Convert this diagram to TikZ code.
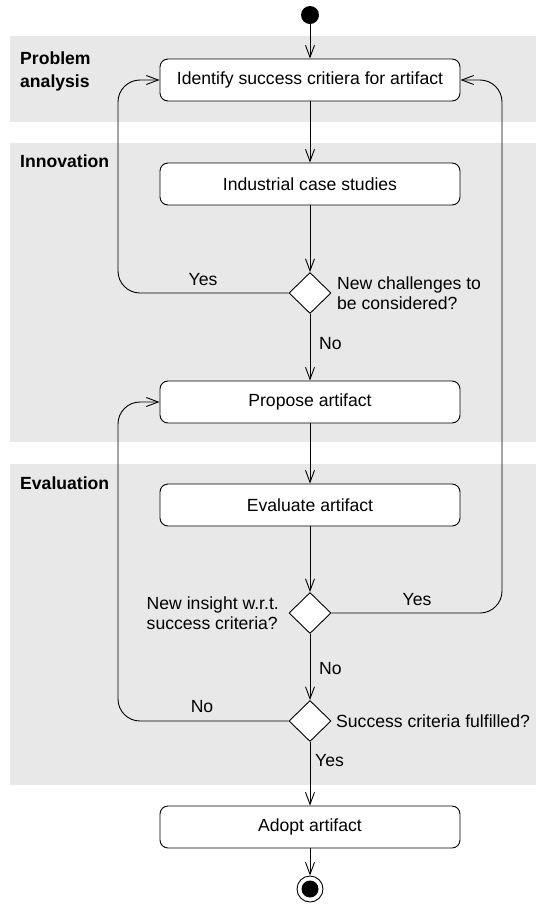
\documentclass[tikz,border=0pt]{standalone}
\usepackage{fontspec}
\setmainfont{Liberation Sans}
\usetikzlibrary{arrows.meta,shapes.geometric}
\definecolor{lanegray}{RGB}{232,232,232}
\begin{document}
\begin{tikzpicture}[x=1pt,y=-1pt,
  font=\fontsize{17.6}{20.5}\selectfont,
  lane/.style={fill=lanegray,draw=none},
  lanelabel/.style={anchor=north west,inner sep=0pt,font=\fontsize{17.6}{22.5}\selectfont\bfseries,align=left},
  action/.style={draw,rounded corners=8pt,fill=white,minimum width=300pt,minimum height=42pt,inner sep=0pt,line width=0.9pt},
  decision/.style={draw,diamond,fill=white,minimum width=42pt,minimum height=41pt,inner sep=0pt,line width=0.9pt},
  flow/.style={draw,line width=0.9pt,-{Straight Barb[length=12pt,width=9pt,line width=0.9pt]}},
  loop/.style={flow,rounded corners=22pt},
  lbl/.style={inner sep=0pt}
]
\useasboundingbox (0,0) rectangle (536,906);

% swimlane bands
\fill[lane] (10,36) rectangle (536,122);
\fill[lane] (10,143) rectangle (536,442);
\fill[lane] (10,464) rectangle (536,785);
\node[lanelabel] (lpa) at (20,52) {Problem\\analysis};
\node[lanelabel] (lin) at (20,155) {Innovation};
\node[lanelabel] (lev) at (20,477) {Evaluation};

% activity nodes
\node[circle,fill=black,minimum size=18pt,inner sep=0pt] (start) at (310,15) {};
\node[action] (identify) at (310,80) {Identify success critiera for artifact};
\node[action] (cases) at (310,184) {Industrial case studies};
\node[decision] (chal) at (310,293) {};
\node[action] (propose) at (310,402) {Propose artifact};
\node[action] (evaluate) at (310,505) {Evaluate artifact};
\node[decision] (insight) at (310,613) {};
\node[decision] (fulfil) at (310,721) {};
\node[action] (adopt) at (310,827) {Adopt artifact};
\node[circle,draw,line width=0.9pt,fill=white,minimum size=26pt,inner sep=0pt] (stop) at (310,889) {};
\node[circle,fill=black,minimum size=17pt,inner sep=0pt] (stopdot) at (stop.center) {};

% decision texts
\node[lbl,anchor=west,align=left] (qchal) at (337,293) {New challenges to\\be considered?};
\node[lbl,anchor=east,align=left] (qins) at (279,613) {New insight w.r.t.\\success criteria?};
\node[lbl,anchor=west] (qful) at (336,721) {Success criteria fulfilled?};

% main flow
\draw[flow] (start) -- (identify);
\draw[flow] (identify) -- (cases);
\draw[flow] (cases) -- (chal);
\draw[flow] (chal) -- (propose);
\draw[flow] (propose) -- (evaluate);
\draw[flow] (evaluate) -- (insight);
\draw[flow] (insight) -- (fulfil);
\draw[flow] (fulfil) -- (adopt);
\draw[flow] (adopt) -- (stop);

% loops back
\draw[loop] (chal.west) -| (118,80) -- (identify.west);
\draw[loop] (insight.east) -| (502,80) -- (identify.east);
\draw[loop] (fulfil.west) -| (118,402) -- (propose.west);

% guard labels
\node[lbl] (y1) at (203,280) {Yes};
\node[lbl,anchor=west] (n1) at (319,344) {No};
\node[lbl] (y2) at (417,600) {Yes};
\node[lbl,anchor=west] (n2) at (319,669) {No};
\node[lbl] (n3) at (202,707) {No};
\node[lbl,anchor=west] (y3) at (315,761) {Yes};
\end{tikzpicture}
\end{document}
